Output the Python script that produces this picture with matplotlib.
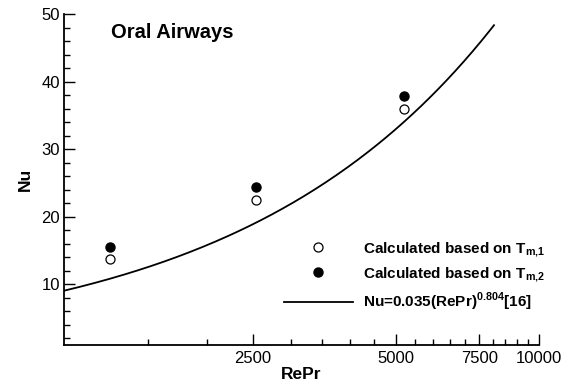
import numpy as np
import matplotlib
matplotlib.use("Agg")
import matplotlib.pyplot as plt
from matplotlib.ticker import FixedLocator, NullFormatter, FixedFormatter

plt.rcParams['font.family'] = ['Liberation Sans', 'DejaVu Sans']
plt.rcParams['mathtext.fontset'] = 'custom'
plt.rcParams['mathtext.rm'] = 'Liberation Sans:bold'
plt.rcParams['mathtext.bf'] = 'Liberation Sans:bold'

# data
repr_pts = [1250, 2540, 5200]
nu_tm1 = [13.7, 22.5, 36.0]
nu_tm2 = [15.5, 24.4, 37.9]

# correlation Nu = 0.035 (RePr)^0.804
corr_c = 0.035
corr_n = 0.804
corr_range = [1000, 8050]

xticks_major = [2500, 5000, 7500, 10000]
xtick_labels = ["2500", "5000", "7500", "10000"]
xticks_minor = list(range(1500, 10000, 500))

fig = plt.figure(figsize=(5.85, 3.86), dpi=100)
ax = fig.add_axes([0.1094, 0.1062, 0.8115, 0.8575])

xs = np.geomspace(corr_range[0], corr_range[1], 200)
ax.plot(repr_pts, nu_tm1, 'o', mfc='white', mec='black', mew=0.9, ms=6.5,
        label=r'Calculated based on T$_{\mathbf{m,\!1}}$', ls='none')
ax.plot(repr_pts, nu_tm2, 'o', mfc='black', mec='black', ms=6.5,
        label=r'Calculated based on T$_{\mathbf{m,\!2}}$', ls='none')
ax.plot(xs, corr_c * xs ** corr_n, color='black', lw=1.3,
        label=r'Nu=0.035(RePr)$^{\mathbf{0.804}}$[16]')

ax.set_xscale('log')
ax.set_xlim(1000, 10000)
ax.set_ylim(1, 50)

ax.xaxis.set_major_locator(FixedLocator(xticks_major))
ax.xaxis.set_major_formatter(FixedFormatter(xtick_labels))
ax.xaxis.set_minor_locator(FixedLocator([t for t in xticks_minor if t not in xticks_major]))
ax.xaxis.set_minor_formatter(NullFormatter())
ax.set_yticks([10, 20, 30, 40, 50])
ax.yaxis.set_minor_locator(FixedLocator(list(range(2, 50, 2))))

ax.tick_params(which='both', direction='in', labelsize=12, width=1.0)
ax.tick_params(which='major', length=8)
ax.tick_params(which='minor', length=4.5)
ax.tick_params(axis='x', pad=4)
ax.tick_params(axis='y', pad=3)

for s in ['top', 'right']:
    ax.spines[s].set_visible(False)
for s in ['left', 'bottom']:
    ax.spines[s].set_linewidth(1.3)

ax.set_xlabel('RePr', fontsize=12.5, fontweight='bold', labelpad=1)
ax.set_ylabel('Nu', fontsize=12.5, fontweight='bold', labelpad=6)

ax.text(0.10, 0.943, 'Oral Airways', transform=ax.transAxes,
        fontsize=14.5, fontweight='bold', va='center', ha='left')

leg = ax.legend(loc='lower right', bbox_to_anchor=(1.02, 0.087), frameon=False,
                prop={'weight': 'bold', 'size': 11}, handlelength=4.5,
                handletextpad=0.65, labelspacing=0.45, borderpad=0.2,
                borderaxespad=0.0)

fig.savefig('out.png', dpi=100)
